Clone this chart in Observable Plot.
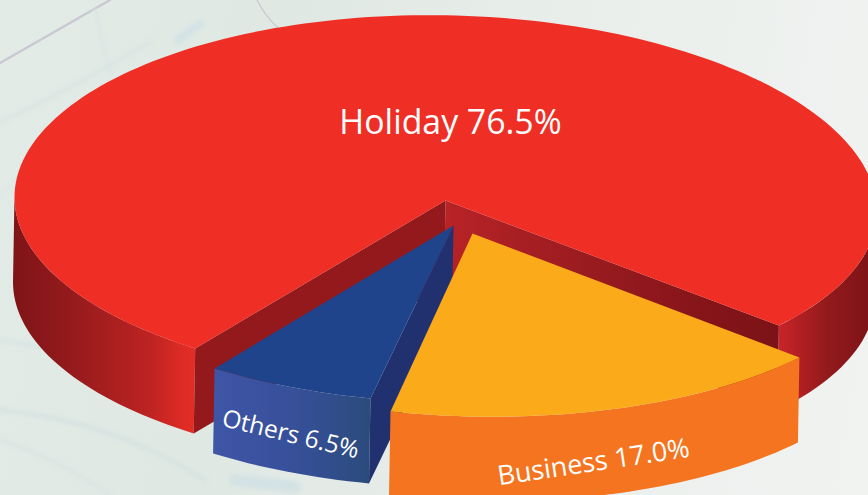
<!DOCTYPE html>
<html>
<head>
<meta charset="utf-8">
<script src="https://cdn.jsdelivr.net/npm/d3@7"></script>
<script src="https://cdn.jsdelivr.net/npm/@observablehq/plot@0.6"></script>
<style>
html,body{margin:0;padding:0;width:868px;height:495px;overflow:hidden;}
body{
  background-color:#e9eeeb;
  background-image:
    url("data:image/svg+xml;utf8,<svg xmlns='http://www.w3.org/2000/svg' width='868' height='495' fill='none' stroke-linecap='round'><defs><filter id='b'><feGaussianBlur stdDeviation='2'/></filter><filter id='s'><feGaussianBlur stdDeviation='0.5'/></filter></defs><g filter='url(%23s)'><path d='M0 63L110 0' stroke='%23c9c8d3' stroke-width='2.5'/><path d='M257 0Q265 16 278 28' stroke='%23c5c8d0' stroke-width='1.2'/></g><g filter='url(%23b)'><path d='M0 122Q60 95 150 42' stroke='%23d9e5e4' stroke-width='4'/><path d='M95 10Q105 50 110 75' stroke='%23dae6e5' stroke-width='4'/><path d='M178 40L200 24' stroke='%23d3e3e5' stroke-width='9'/><path d='M0 200Q20 170 60 130' stroke='%23dde8e6' stroke-width='4'/><path d='M0 410Q110 420 205 480' stroke='%23d7e3e2' stroke-width='5'/><path d='M0 340Q60 350 190 375' stroke='%23d9e5e3' stroke-width='5'/><path d='M0 440Q60 460 110 495' stroke='%23d9e5e3' stroke-width='4'/><path d='M235 480L295 487' stroke='%23d3e2e4' stroke-width='12'/></g></svg>"),
    linear-gradient(100deg,#e3ebe6 0%,#dfe8e3 30%,#e9eeeb 60%,#f1f3f1 100%);
}
svg{display:block;background:transparent !important;}
</style>
</head>
<body>
<script>
// Chart values
const categories = ["Holiday", "Business", "Others"];
const shares = [76.5, 17.0, 6.5];
const labels = ["Holiday 76.5%", "Business 17.0%", "Others 6.5%"];

// Pie drawing set-up (view geometry, not data)
const startAngle = 41.2;
const depth = {dx: -1.5, dy: 85};
const views = {
  Holiday:  {cx: 445, cy: 200, a: 431, k: 0.02, b: 185.3, c: 7.3, d: 3.9},
  Business: {cx: 472, cy: 233, a: 426, k: 0, b: 183.2, c: 9.7, d: 4.4},
  Others:   {cx: 453, cy: 225, a: 418, k: 0, b: 177.4, c: 6.9, d: 1.6}
};

// Sweep order on screen: Business, Others, then Holiday round the back
const span = Object.fromEntries(categories.map((c, i) => [c, shares[i] * 3.6]));
const range = {};
range.Business = [startAngle, startAngle + span.Business];
range.Others = [range.Business[1], range.Business[1] + span.Others];
range.Holiday = [range.Others[1], range.Others[1] + span.Holiday];

const rad = (t) => (t * Math.PI) / 180;
function rim(name, t) {
  const v = views[name], s = Math.sin(rad(t)), c = Math.cos(rad(t));
  return {x: v.cx + v.a * (1 + v.k * s) * c + v.c * s, y: v.cy + v.b * s + v.d * c};
}
const apex = (name) => ({x: views[name].cx, y: views[name].cy});
const down = (p) => ({x: p.x + depth.dx, y: p.y + depth.dy});
function arc(name, t0, t1) {
  const n = Math.max(2, Math.ceil(Math.abs(t1 - t0) / 1.5));
  return d3.range(n + 1).map((i) => rim(name, t0 + ((t1 - t0) * i) / n));
}
const sector = (name) => [apex(name), ...arc(name, ...range[name])];
const band = (pts) => [...pts, ...pts.slice().reverse().map(down)];
const poly = (pts, fill) => Plot.line(pts, {x: "x", y: "y", fill, stroke: "none"});

function gradient(id, stops) {
  return `<linearGradient id="${id}" x1="0" x2="1" y1="0" y2="0">` +
    stops.map(([o, c]) => `<stop offset="${o}" stop-color="${c}"/>`).join("") + "</linearGradient>";
}
const defsMark = () => {
  const g = document.createElementNS("http://www.w3.org/2000/svg", "defs");
  g.innerHTML =
    gradient("holidayLeft", [[0, "#7f1417"], [0.3, "#931a1c"], [0.75, "#bd2322"], [0.93, "#dd2c25"], [1, "#e32d26"]]) +
    gradient("holidayRight", [[0, "#cb2429"], [0.5, "#921a1c"], [1, "#7b1216"]]) +
    gradient("holidayWall", [[0, "#b82327"], [0.45, "#981b1f"], [0.8, "#841419"], [1, "#7c1318"]]) +
    gradient("othersSide", [[0, "#3f55a6"], [0.5, "#37509a"], [1, "#2b4b7d"]]);
  return g;
};

const [h0, h1] = range.Holiday;
const leftCut = h0, rightCut = h1;
const textFont = "Open Sans";

const chart = Plot.plot({
  width: 868,
  height: 495,
  margin: 0,
  x: {domain: [0, 868], range: [0, 868], axis: null},
  y: {domain: [0, 495], range: [0, 495], axis: null},
  style: {background: "transparent", overflow: "hidden"},
  marks: [
    defsMark,
    // Holiday: outer side, notch walls, top
    poly(band(arc("Holiday", leftCut, 180)), "url(#holidayLeft)"),
    poly(band(arc("Holiday", 360, rightCut)), "url(#holidayRight)"),
    poly(band([apex("Holiday"), rim("Holiday", rightCut)]), "url(#holidayWall)"),
    poly(band([apex("Holiday"), rim("Holiday", leftCut)]), "#94191c"),
    poly(sector("Holiday"), "#ef2e25"),
    // Others: outer side, wall, top
    poly(band(arc("Others", ...range.Others)), "url(#othersSide)"),
    poly(band([apex("Others"), rim("Others", range.Others[0])]), "#21316f"),
    poly(sector("Others"), "#1f448b"),
    // Business: outer side, top
    poly(band(arc("Business", ...range.Business)), "#f57420"),
    poly(sector("Business"), "#fbaa1a"),
    // Labels
    Plot.text([labels[0]], {x: [450], y: [123], text: (d) => d, fill: "white", fontSize: 33.8, fontFamily: textFont, textAnchor: "middle", lineAnchor: "middle"}),
    Plot.text([labels[1]], {x: [593], y: [462], text: (d) => d, fill: "white", fontSize: 27, fontFamily: textFont, rotate: -8.5, textAnchor: "middle", lineAnchor: "middle"}),
    Plot.text([labels[2]], {x: [290], y: [434], text: (d) => d, fill: "white", fontSize: 24.6, fontFamily: textFont, rotate: 13.5, textAnchor: "middle", lineAnchor: "middle"})
  ]
});
document.body.appendChild(chart);
</script>
</body>
</html>
